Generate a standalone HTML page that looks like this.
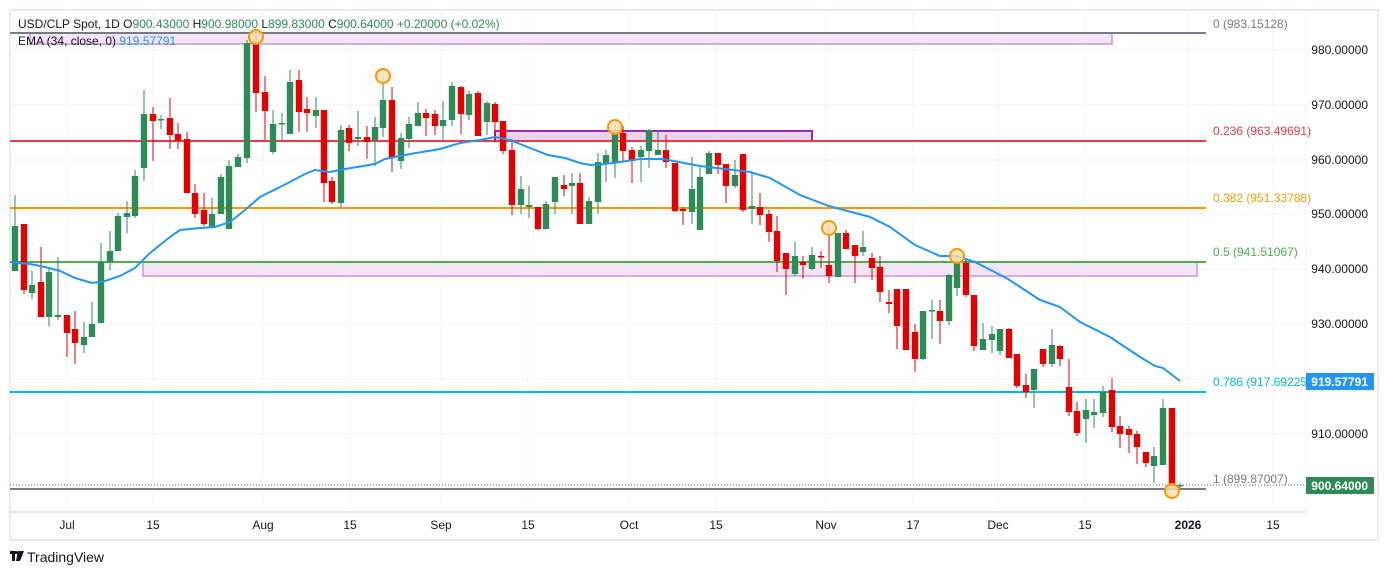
<!DOCTYPE html>
<html><head><meta charset="utf-8"><style>
body{margin:0;background:#fff;width:1388px;height:575px;overflow:hidden;font-family:"Liberation Sans",sans-serif}
svg{position:absolute;left:0;top:0}
</style></head><body>
<svg id="s" width="1388" height="575" xmlns="http://www.w3.org/2000/svg" font-family="Liberation Sans, sans-serif">
<rect x="10" y="10" width="1368" height="530" fill="#fff" stroke="#e0e3eb" stroke-width="1.5"/>
<g id="grid" stroke="#f0f3fa" stroke-width="1"></g>
<line x1="10" y1="512" x2="1306" y2="512" stroke="#e0e3eb" stroke-width="1.5"/>
<line x1="1306" y1="10" x2="1306" y2="512" stroke="#f0f3fa"/>
<!-- rectangles -->
<rect x="30" y="33" width="1082" height="11" fill="#f3e5f5" stroke="#ce93d8" stroke-width="1.5"/>
<rect x="143" y="262" width="1054" height="14" fill="#f3e5f5" stroke="#ce93d8" stroke-width="1.5"/>
<rect x="495" y="131" width="317" height="10" fill="#e8d4ef" stroke="#9c27b0" stroke-width="2"/>
<!-- fib lines -->
<line x1="10" y1="33" x2="1206" y2="33" stroke="#787b86" stroke-width="2"/>
<line x1="10" y1="141" x2="1206" y2="141" stroke="#f23645" stroke-width="2"/>
<line x1="10" y1="208" x2="1206" y2="208" stroke="#ff9800" stroke-width="2"/>
<line x1="10" y1="262" x2="1206" y2="262" stroke="#4caf50" stroke-width="2"/>
<line x1="10" y1="392" x2="1206" y2="392" stroke="#00bcd4" stroke-width="2"/>
<line x1="10" y1="489" x2="1206" y2="489" stroke="#787b86" stroke-width="2"/>
<line x1="10" y1="485" x2="1306" y2="485" stroke="#2e8b57" stroke-width="1" stroke-dasharray="1,2"/>
<g id="candles"></g>
<polyline fill="none" stroke="#2196f3" stroke-width="2" points="10,262 30,264 45,267 60,271 75,278 92,283 105,281 120,276 135,268 150,253 170,237 180,230 200,228 215,227 230,222 245,210 260,197 280,187 290,182 305,174 315,170 330,172 345,169 375,164 385,159 410,154 440,149 460,143 480,140 495,137 510,140 530,148 548,155 565,158 580,163 590,165 605,164 620,162 640,159 663,159 700,166 750,172 770,178 800,195 829,206 870,217 890,227 915,245 940,256 957,256 975,262 1008,279 1040,300 1060,307 1080,322 1110,337 1140,357 1155,366 1163,368 1180,381"/>
<g fill="#ffe0b2" fill-opacity="0.8" stroke="#ff9800" stroke-width="2">
<circle cx="256" cy="37" r="7"/><circle cx="383" cy="76" r="7"/><circle cx="615" cy="127" r="7"/><circle cx="829" cy="228" r="7"/><circle cx="957" cy="256" r="7"/><circle cx="1172" cy="491" r="7"/>
</g>
<!-- fib labels -->
<g font-size="12">
<text x="1213" y="28" fill="#787b86">0 (983.15128)</text>
<text x="1213" y="135" fill="#f23645">0.236 (963.49691)</text>
<text x="1213" y="202" fill="#ff9800">0.382 (951.33786)</text>
<text x="1213" y="256" fill="#4caf50">0.5 (941.51067)</text>
<text x="1213" y="386" fill="#00bcd4">0.786 (917.69225</text>
<text x="1213" y="483" fill="#787b86">1 (899.87007)</text>
</g>
<g id="pl" font-size="12" fill="#131722" text-anchor="end"></g>
<rect x="1306" y="373" width="68" height="17" fill="#2196f3"/>
<text x="1368" y="386" font-size="12" fill="#fff" font-weight="bold" text-anchor="end">919.57791</text>
<rect x="1306" y="477" width="68" height="17" fill="#2e8b57"/>
<text x="1368" y="490" font-size="12" fill="#fff" font-weight="bold" text-anchor="end">900.64000</text>
<g font-size="12" fill="#131722" text-anchor="middle">
<text x="67" y="529">Jul</text><text x="153" y="529">15</text><text x="263" y="529">Aug</text><text x="350" y="529">15</text><text x="441" y="529">Sep</text><text x="528" y="529">15</text><text x="629" y="529">Oct</text><text x="716" y="529">15</text><text x="826" y="529">Nov</text><text x="913" y="529">17</text><text x="998" y="529">Dec</text><text x="1085" y="529">15</text><text x="1188" y="529" font-weight="bold">2026</text><text x="1273" y="529">15</text>
</g>
<g font-size="12">
<text x="18" y="28" fill="#131722">USD/CLP Spot, 1D <tspan>O</tspan><tspan fill="#2e8b57">900.43000</tspan> <tspan>H</tspan><tspan fill="#2e8b57">900.98000</tspan> <tspan>L</tspan><tspan fill="#2e8b57">899.83000</tspan> <tspan>C</tspan><tspan fill="#2e8b57">900.64000</tspan> <tspan fill="#2e8b57">+0.20000 (+0.02%)</tspan></text>
<text x="18" y="45" fill="#131722">EMA (34, close, 0) <tspan fill="#2196f3">919.57791</tspan></text>
</g>
<g fill="#131722"><rect x="10" y="551" width="7" height="3"/><rect x="12" y="551" width="3" height="10"/><polygon points="18,551 24,551 20,561 16,561"/><circle cx="18" cy="553" r="1.5"/></g>
<text x="27" y="562" font-size="14" fill="#131722">TradingView</text>
</svg>
<script>
var NS="http://www.w3.org/2000/svg";
function el(p,t,a){var e=document.createElementNS(NS,t);for(var k in a)e.setAttribute(k,a[k]);p.appendChild(e);return e;}
var g=document.getElementById('grid');
[67,153,263,350,441,528,629,716,826,913,998,1085,1188,1273].forEach(function(x){el(g,'line',{x1:x,y1:10,x2:x,y2:512});});
var pl=document.getElementById('pl');
[[980,50],[970,105],[960,160],[950,214],[940,269],[930,324],[920,379],[910,434]].forEach(function(p){
 el(g,'line',{x1:10,y1:p[1],x2:1306,y2:p[1]});
 if(p[0]!=920){var t=el(pl,'text',{x:1368,y:p[1]+4});t.textContent=p[0].toFixed(5);}
});
var C=[
[15,'g',226,271,195,271],[24,'r',224,290,224,294],[32,'g',285,293,271,299],[41,'r',282,317,247,317],[49,'g',272,317,267,326],[58,'g',315,317,257,320],[67,'r',315,333,315,357],[75,'r',329,343,311,364],[84,'g',337,345,322,353],[92,'g',324,337,302,337],[101,'g',262,323,243,323],[110,'g',251,262,231,270],[118,'g',216,251,213,251],[127,'g',213,217,201,233],[135,'g',176,216,170,218],[144,'g',114,168,90,181],[153,'r',114,121,107,161],[161,'g',119,120,115,129],[170,'r',118,135,98,149],[178,'r',134,141,123,149],[187,'r',139,193,132,193],[195,'r',193,214,184,218],[204,'r',210,224,193,226],[212,'g',214,227,198,227],[221,'g',177,214,174,214],[229,'g',166,229,160,229],[238,'g',157,167,154,167],[247,'g',43,158,40,163],[256,'r',43,93,33,112],[265,'r',92,111,76,140],[273,'g',124,152,110,154],[282,'g',123,124,113,140],[290,'g',82,134,70,134],[299,'r',80,112,70,132],[307,'r',109,113,97,132],[316,'g',110,116,97,128],[324,'r',110,183,110,202],
[332,'r',181,202,177,204],[341,'g',130,203,125,207],[349,'r',128,143,125,151],[358,'g',137,139,111,146],[367,'r',137,142,126,159],[375,'g',127,140,117,166],[383,'g',100,128,76,137],[392,'r',100,158,87,172],[401,'g',138,161,133,169],[409,'g',124,139,117,148],[418,'g',113,126,102,126],[426,'r',113,118,109,136],[435,'r',114,126,110,135],[443,'g',120,126,101,140],[452,'g',86,120,82,126],[461,'r',87,114,86,134],[469,'g',94,115,91,120],[478,'r',93,136,91,136],[487,'g',103,122,101,135],[495,'r',104,122,102,142],[503,'r',121,151,121,154],[512,'r',150,205,139,215],[521,'g',189,205,176,214],[529,'g',205,207,186,218],[538,'r',207,229,207,230],[546,'g',204,229,201,229],[555,'g',177,202,177,214],[564,'r',185,189,175,196],[572,'g',183,186,173,214],[580,'r',183,224,173,224],[589,'g',201,224,197,224],[598,'g',162,202,153,214],[606,'g',155,163,150,182],[615,'g',131,162,124,178],[623,'r',133,151,126,162],[632,'r',150,161,147,183],[641,'g',150,157,146,182],[649,'g',130,151,129,168],[658,'g',150,155,130,155],[666,'r',150,162,135,168],
[675,'r',163,211,163,212],[683,'r',209,211,207,225],[692,'g',189,212,157,224],[700,'g',177,230,165,230],[709,'g',153,174,151,174],[718,'r',153,165,153,174],[726,'r',164,186,164,203],[735,'g',175,186,160,188],[743,'r',154,210,154,212],[752,'g',206,209,172,224],[760,'r',207,215,193,225],[769,'r',214,232,210,242],[777,'r',231,261,216,272],[786,'r',253,269,253,295],[795,'g',256,274,242,276],[803,'r',262,265,256,279],[812,'g',255,269,247,270],[821,'r',256,257,251,268],[829,'r',265,276,225,283],[838,'g',233,277,233,277],[846,'r',233,249,230,249],[855,'r',245,256,245,283],[863,'g',247,252,231,256],[872,'r',258,268,253,280],[880,'r',267,292,256,302],[889,'r',302,304,290,313],[897,'r',289,326,289,349],[906,'r',289,350,289,350],[915,'r',332,359,324,372],[923,'g',311,359,311,360],[932,'g',310,311,300,339],[940,'r',311,321,300,344],[949,'g',275,321,274,325],[957,'g',263,288,255,296],[966,'r',263,295,258,297],
[974,'r',295,346,295,351],[983,'g',339,350,323,350],[992,'g',334,340,326,353],[1000,'g',329,351,329,355],[1009,'r',329,358,328,358],[1017,'r',354,386,354,388],[1026,'r',385,392,374,398],[1034,'g',369,390,369,408],[1043,'r',349,364,349,367],[1052,'g',345,364,329,367],[1060,'r',346,359,345,366],[1069,'r',387,412,359,416],[1077,'r',411,433,402,436],[1086,'g',410,419,399,443],[1094,'g',412,415,399,428],[1103,'g',392,413,386,417],[1112,'r',390,427,378,432],[1120,'r',426,434,416,448],[1129,'r',429,435,426,453],[1137,'r',434,447,431,464],[1146,'r',452,463,452,467],[1154,'g',456,466,447,483],[1163,'g',408,465,399,465],[1172,'r',408,487,408,487],[1180,'g',485,486,483,488]
];
var cg=document.getElementById('candles');
C.forEach(function(c){var col=c[1]=='g'?'#2e8b57':'#e60000';
 el(cg,'line',{x1:c[0],y1:c[4],x2:c[0],y2:c[5],stroke:col,'stroke-width':1});
 var h=Math.max(1.5,c[3]-c[2]);el(cg,'rect',{x:c[0]-3.2,y:c[2],width:6.4,height:h,fill:col});
});
</script>
</body></html>
